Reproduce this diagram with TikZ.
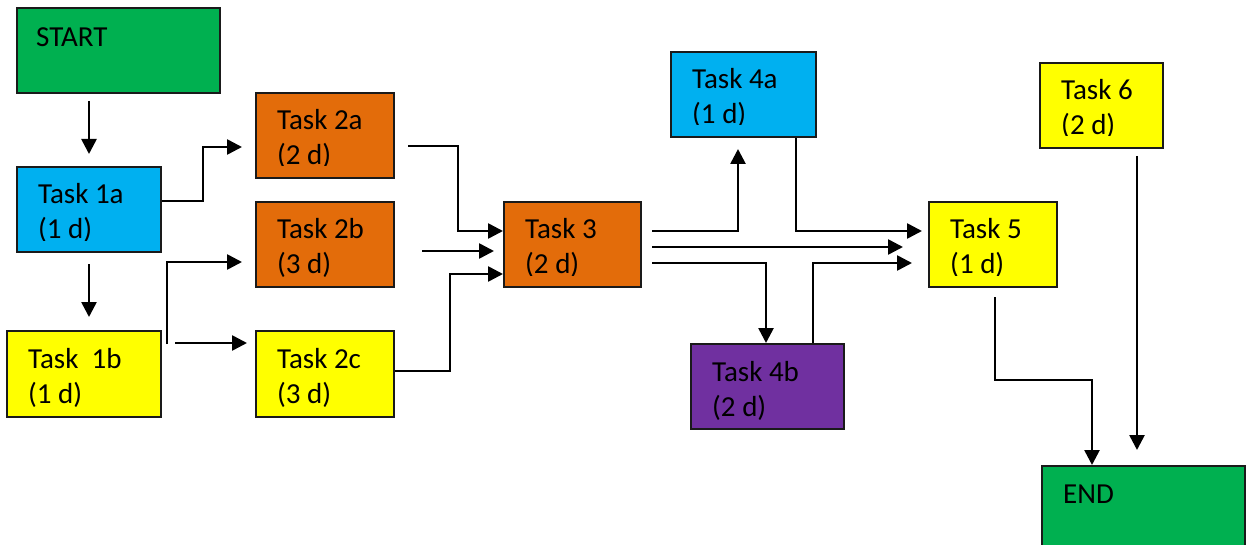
\documentclass[tikz,border=0pt]{standalone}
\usepackage{fontspec}
\setmainfont{Carlito}
\usetikzlibrary{arrows.meta,calc,fit}

\definecolor{startgreen}{HTML}{00B050}
\definecolor{taskblue}{HTML}{00B0F0}
\definecolor{taskorange}{HTML}{E36C0A}
\definecolor{taskyellow}{HTML}{FFFF00}
\definecolor{taskpurple}{HTML}{7030A0}
\definecolor{edge}{HTML}{1A1A1A}

% two text lines, the box baseline being that of the first line
\newcommand\twolines[2]{\vtop{\baselineskip=35pt\hbox{#1}\hbox{#2}}}

\tikzset{
  box/.style={draw=edge, line width=2pt, inner sep=0pt},
  txt/.style={anchor=base west, inner sep=0pt, font=\fontsize{29}{35}\selectfont, text=black},
  arr/.style={draw=black, line width=2.6pt, -{Triangle[length=15pt,width=15pt]}},
}

% label of a box, first baseline 38 units under its top edge
\newcommand\boxlabel[3]{\node[txt] (#1-label) at ($(#1.north west)+(22,38)$) {\twolines{#2}{#3}};}
% same, with the lower line cut just below its baseline
\newcommand\cutlabel[3]{%
  \begin{scope}
    \clip ($(#1.north west)+(1,1)$) rectangle ($(#1.north east)+(-1,74)$);
    \boxlabel{#1}{#2}{#3}
  \end{scope}}

\begin{document}
\begin{tikzpicture}[x=1pt, y=-1pt]
  \useasboundingbox (0,0) rectangle (1246,545);
  \fill[white] (0,0) rectangle (1246,545);

  % boxes
  \node[box, fill=startgreen, fit={(17,8) (220,93)}]    (start) {};
  \node[box, fill=taskblue,   fit={(17,167) (161,252)}]  (t1a) {};
  \node[box, fill=taskyellow, fit={(7,331) (161,417)}]   (t1b) {};
  \node[box, fill=taskorange, fit={(256,93) (394,178)}]  (t2a) {};
  \node[box, fill=taskorange, fit={(256,202) (394,287)}] (t2b) {};
  \node[box, fill=taskyellow, fit={(256,331) (394,417)}] (t2c) {};
  \node[box, fill=taskorange, fit={(504,202) (641,287)}] (t3) {};
  \node[box, fill=taskblue,   fit={(671,52) (816,137)}]  (t4a) {};
  \node[box, fill=taskpurple, fit={(691,344) (844,429)}] (t4b) {};
  \node[box, fill=taskyellow, fit={(929,202) (1057,287)}] (t5) {};
  \node[box, fill=taskyellow, fit={(1040,63) (1163,148)}] (t6) {};
  \node[box, fill=startgreen, fit={(1042,466) (1245,551)}] (end) {};

  % labels
  \node[txt] (start-label) at ($(start.north west)+(20,40)$) {START};
  \node[txt] (end-label) at ($(end.north west)+(22,38)$) {END};
  \cutlabel{t1a}{Task 1a}{(1 d)}
  \boxlabel{t1b}{Task\ \ 1b}{(1 d)}
  \cutlabel{t2a}{Task 2a}{(2 d)}
  \boxlabel{t2b}{Task 2b}{(3 d)}
  \boxlabel{t2c}{Task 2c}{(3 d)}
  \cutlabel{t3}{Task 3}{(2 d)}
  \cutlabel{t4a}{Task 4a}{(1 d)}
  \boxlabel{t4b}{Task 4b}{(2 d)}
  \cutlabel{t5}{Task 5}{(1 d)}
  \cutlabel{t6}{Task 6}{(2 d)}

  % dependencies
  \draw[arr] ($(start.south west)+(73,7)$) -- ($(t1a.north west)+(73,-12)$);
  \draw[arr] ($(t1a.south west)+(73,11)$) -- ($(t1b.north west)+(83,-13)$);
  \draw[arr] ($(t1a.north east)+(0,35)$) -- ++(41,0) |- ($(t2a.north west)+(-13,55)$);
  \draw[arr] ($(t1b.north east)+(5,14)$) |- ($(t2b.north west)+(-13,61)$);
  \draw[arr] ($(t1b.north east)+(13,13)$) -- ($(t2c.north west)+(-8,13)$);

  \draw[arr] ($(t2a.north east)+(13,54)$) -- ++(50,0) |- ($(t3.north west)+(0,30)$);
  \draw[arr] ($(t2b.north east)+(27,50)$) -- ($(t3.north west)+(-9,50)$);
  \draw[arr] ($(t2c.north east)+(0,41)$) -- ++(55,0) |- ($(t3.north west)+(0,73)$);

  \draw[arr] ($(t3.north east)+(10,30)$) -| ($(t4a.south west)+(68,11)$);
  \draw[arr] ($(t3.north east)+(10,46)$) -- ($(t5.north west)+(-25,46)$);
  \draw[arr] ($(t3.north east)+(10,62)$) -| ($(t4b.north west)+(76,0)$);

  \draw[arr] ($(t4a.south west)+(126,0)$) |- ($(t5.north west)+(-6,30)$);
  \draw[arr] ($(t4b.north west)+(123,0)$) |- ($(t5.north west)+(-16,62)$);

  \draw[arr] ($(t5.south west)+(67,9)$) -- ++(0,83) -| ($(end.north west)+(51,0)$);
  \draw[arr] ($(t6.south west)+(98,7)$) -- ($(end.north west)+(96,-15)$);
\end{tikzpicture}
\end{document}
